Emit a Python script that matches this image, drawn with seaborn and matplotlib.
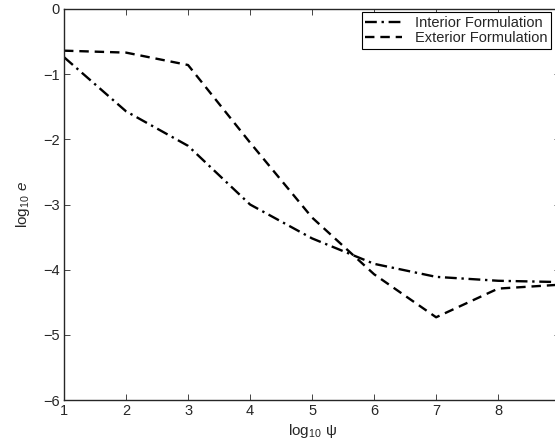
import matplotlib
matplotlib.use("Agg")
import matplotlib.pyplot as plt
import seaborn as sns
import pandas as pd

# values
log_psi = [1, 2, 3, 4, 5, 6, 7, 8, 9]
interior = [-0.74, -1.57, -2.1, -3.0, -3.52, -3.91, -4.11, -4.17, -4.19]
exterior = [-0.64, -0.67, -0.86, -2.05, -3.2, -4.07, -4.73, -4.29, -4.23]
labels = ['Interior Formulation', 'Exterior Formulation']
xtick_labels = ['1', '2', '3', '4', '5', '6', '7', '8', '']  # 9 falls off the cropped edge
ytick_labels = ['\u22126', '\u22125', '\u22124', '\u22123', '\u22122', '\u22121', '0']

sns.set_style("ticks")
plt.rcParams['font.family'] = ['Liberation Sans', 'DejaVu Sans']
plt.rcParams['mathtext.fontset'] = 'custom'
plt.rcParams['mathtext.rm'] = 'Liberation Sans'
plt.rcParams['mathtext.it'] = 'Liberation Sans:italic'

df = pd.concat([
    pd.DataFrame({'x': log_psi, 'y': interior, 'method': labels[0]}),
    pd.DataFrame({'x': log_psi, 'y': exterior, 'method': labels[1]}),
])

fig = plt.figure(figsize=(5.55, 4.47), dpi=100)
ax = fig.add_axes([0.1153, 0.105, 0.894, 0.875])

sns.lineplot(data=df, x='x', y='y', style='method', hue='method',
             palette=['black', 'black'],
             dashes={labels[0]: (5, 2, 1, 2), labels[1]: (4, 2.5)},
             linewidth=1.7, ax=ax)

ax.set_xlim(1, 9)
ax.set_ylim(-6, 0)
ax.set_xticks(log_psi)
ax.set_xticklabels(xtick_labels)
ax.set_yticks(range(-6, 1))
ax.set_yticklabels(ytick_labels)
ax.tick_params(direction='in', top=True, right=True, labelsize=10.5, length=4, width=0.6, pad=3)
for s in ax.spines.values():
    s.set_linewidth(1.0)
ax.set_xlabel('log$_{10}$ ψ', fontsize=11, labelpad=3)
ax.set_ylabel('log$_{10}$ $e$', fontsize=11, labelpad=8)

leg = ax.legend(handles=ax.get_lines()[:2], labels=labels, loc='upper right',
                bbox_to_anchor=(551 / 555, 1 - 12 / 447), bbox_transform=fig.transFigure,
                borderaxespad=0, fancybox=False, framealpha=1, edgecolor='black',
                fontsize=10.5, handlelength=2.5, handletextpad=0.9, borderpad=0.25,
                labelspacing=0.1)
leg.get_frame().set_linewidth(0.8)

fig.savefig('out.png', dpi=100)
